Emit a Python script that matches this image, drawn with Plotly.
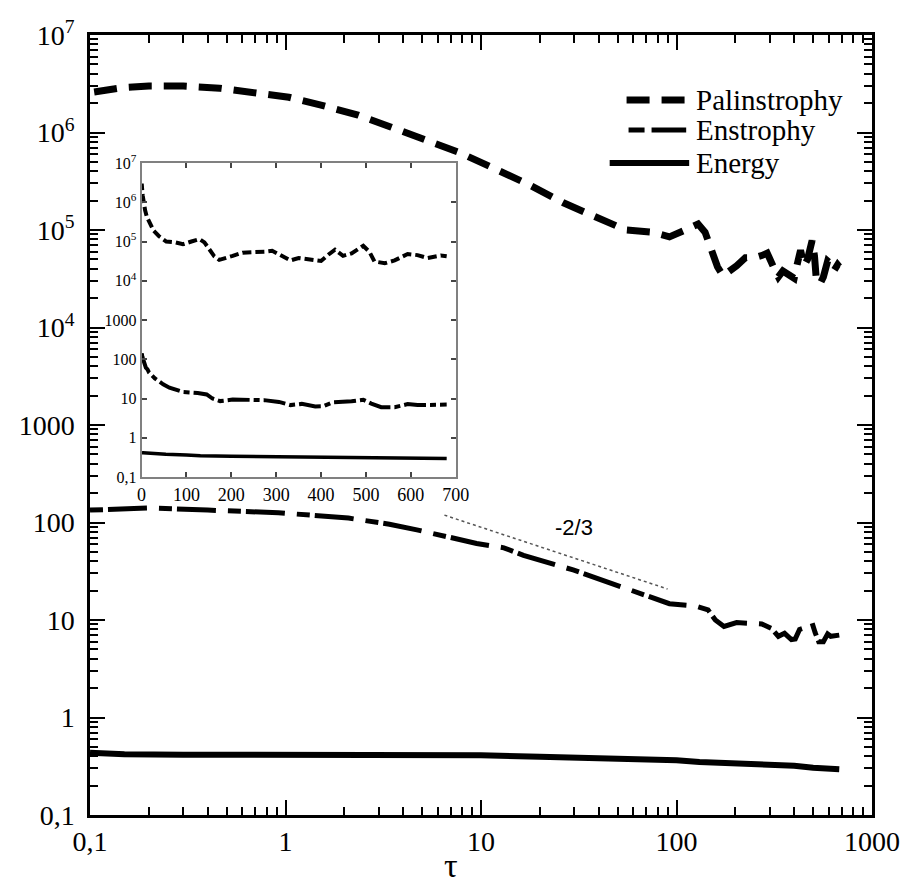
import plotly.graph_objects as go

# ---------------- data ----------------
pal_tau = [0.105, 0.15, 0.2, 0.3, 0.46, 0.7, 1.04, 1.52, 2.35, 3.45, 5.3, 7.8, 11.6, 17.7, 26.4,
           38.8, 55, 75, 92, 111, 129, 140, 152, 162, 173, 190, 203, 225, 250, 275, 291, 313,
           332, 350, 379, 400, 416, 431, 449, 468, 494, 508, 519, 542, 564, 593, 615, 637, 667,
           680]
pal_val = [2.6e6, 2.9e6, 3.0e6, 3.0e6, 2.85e6, 2.6e6, 2.3e6, 1.91e6, 1.51e6, 1.14e6, 8.4e5,
           6.2e5, 4.3e5, 2.9e5, 1.9e5, 1.36e5, 1.0e5, 9.5e4, 8.5e4, 1.0e5, 1.15e5, 9.5e4, 6e4,
           4.2e4, 3.4e4, 3.8e4, 4.3e4, 5.2e4, 5.2e4, 5.5e4, 5.8e4, 4.2e4, 3.3e4, 3.8e4, 3.5e4,
           3.2e4, 4.6e4, 6.2e4, 4.3e4, 5e4, 7.8e4, 5.4e4, 3.1e4, 2.8e4, 3.3e4, 4.8e4, 4.5e4,
           3.8e4, 4.4e4, 4.2e4]

ens_tau = [0.1, 0.2, 0.4, 0.92, 2.1, 3.4, 4.7, 7.5, 9.5, 13.1, 16.5, 29.6, 37.5, 48, 62, 75, 92,
           125, 145, 158, 175, 203, 225, 273, 306, 332, 357, 387, 405, 426, 468, 494, 512, 534,
           564, 593, 615, 656, 680]
ens_val = [134, 141, 134, 126, 111, 96, 84, 69, 61, 55, 46, 32.6, 27.6, 23, 18.9, 16.8, 14.7,
           13.9, 12.7, 10, 8.6, 9.4, 9.3, 9.1, 8.2, 6.8, 7.3, 6.3, 6.4, 8.0, 8.5, 9.3, 7.4, 6.0,
           6.0, 7.2, 6.8, 7.0, 7.0]

en_tau = [0.1, 0.15, 0.3, 1, 3, 10, 20, 54, 100, 131, 200, 300, 400, 500, 600, 680]
en_val = [0.435, 0.42, 0.415, 0.415, 0.415, 0.41, 0.395, 0.38, 0.365, 0.35, 0.34, 0.33, 0.32,
          0.305, 0.3, 0.295]

slope_tau = [6.5, 90]
slope_val = [119, 20.8]

x_ticks = [0.1, 1, 10, 100, 1000]
x_ticktext = ["0,1", "1", "10", "100", "1000"]
y_ticks = [0.1, 1, 10, 100, 1000, 1e4, 1e5, 1e6, 1e7]
y_ticktext = ["0,1", "1", "10", "100", "1000", "10<sup>4</sup>", "10<sup>5</sup>",
              "10<sup>6</sup>", "10<sup>7</sup>"]
inset_x_ticks = [0, 100, 200, 300, 400, 500, 600, 700]

legend_names = ["Palinstrophy", "Enstrophy", "Energy"]

# ---------------- figure ----------------
SERIF = "Liberation Serif"
SANS = "Liberation Sans"
fig = go.Figure()

# main panel
fig.add_trace(go.Scatter(x=pal_tau, y=pal_val, mode="lines", name=legend_names[0],
                         line=dict(color="black", width=7, dash="23px,12px"),
                         xaxis="x", yaxis="y"))
fig.add_trace(go.Scatter(x=ens_tau, y=ens_val, mode="lines", name=legend_names[1],
                         line=dict(color="black", width=5, dash="13px,5px,39px,12px"),
                         xaxis="x", yaxis="y"))
fig.add_trace(go.Scatter(x=en_tau, y=en_val, mode="lines", name=legend_names[2],
                         line=dict(color="black", width=6), xaxis="x", yaxis="y"))
fig.add_trace(go.Scatter(x=slope_tau, y=slope_val, mode="lines", name="-2/3",
                         line=dict(color="#555555", width=1.5, dash="3px,3px"),
                         xaxis="x", yaxis="y"))

# inset panel
fig.add_trace(go.Scatter(x=pal_tau, y=pal_val, mode="lines",
                         line=dict(color="black", width=4, dash="9px,4px"),
                         xaxis="x2", yaxis="y2"))
fig.add_trace(go.Scatter(x=ens_tau, y=ens_val, mode="lines",
                         line=dict(color="black", width=4, dash="22px,4px,6px,4px"),
                         xaxis="x2", yaxis="y2"))
fig.add_trace(go.Scatter(x=en_tau, y=en_val, mode="lines",
                         line=dict(color="black", width=3.5),
                         xaxis="x2", yaxis="y2"))

# main y labels get a trailing no-break space to sit a little further from the axis
y_ticktext_main = [t + "\u00a0" for t in y_ticktext]

TICK_COLOR = "black"
INSET_TICK_COLOR = "#444444"
main_minor = dict(ticks="inside", ticklen=8, tickwidth=2, tickcolor=TICK_COLOR, dtick="D1")
fig.update_layout(
    width=912, height=887,
    margin=dict(l=90, r=35, t=35, b=72),
    paper_bgcolor="white", plot_bgcolor="white",
    showlegend=False,
    xaxis=dict(type="log", range=[-1, 3], domain=[0, 1], anchor="y",
               tickvals=x_ticks, ticktext=x_ticktext,
               showgrid=False, zeroline=False, showline=True, linecolor="black",
               linewidth=2.5, ticks="inside", ticklen=15, tickwidth=2,
               tickcolor=TICK_COLOR, mirror="allticks", minor=main_minor,
               tickfont=dict(family=SERIF, size=28, color="black")),
    yaxis=dict(type="log", range=[-1, 7], domain=[0, 1], anchor="x",
               tickvals=y_ticks, ticktext=y_ticktext_main,
               showgrid=False, zeroline=False, showline=True, linecolor="black",
               linewidth=2.5, ticks="inside", ticklen=15, tickwidth=2,
               tickcolor=TICK_COLOR, mirror="allticks", minor=main_minor,
               tickfont=dict(family=SERIF, size=28, color="black")),
    xaxis2=dict(range=[0, 700], domain=[0.066, 0.4676], anchor="y2",
                tickvals=inset_x_ticks,
                showgrid=False, zeroline=False, showline=True, linecolor="#808080",
                linewidth=2, ticks="inside", ticklen=5, tickwidth=1.5,
                tickcolor=INSET_TICK_COLOR, mirror="allticks",
                tickfont=dict(family=SERIF, size=18, color="black")),
    yaxis2=dict(type="log", range=[-1, 7], domain=[0.4333, 0.8359], anchor="x2",
                tickvals=y_ticks, ticktext=y_ticktext,
                showgrid=False, zeroline=False, showline=True, linecolor="#808080",
                linewidth=2, ticks="inside", ticklen=5, tickwidth=1.5,
                tickcolor=INSET_TICK_COLOR, mirror="allticks",
                tickfont=dict(family=SERIF, size=16, color="black")),
)

# pixel -> paper helpers (plot area spans px 90..877, py 35..815)
def px(x):
    return (x - 90) / 787.0

def py(y):
    return (815 - y) / 780.0

# manual legend (long line samples like the original)
legend_rows = [
    (legend_names[0], 100, dict(color="black", width=7, dash="23px,12px"), 630, 690),
    (legend_names[1], 130, dict(color="black", width=5, dash="16px,7px,40px,4px"), 632, 690),
    (legend_names[2], 163, dict(color="black", width=6), 613, 693),
]
for name, yy, ln, x0, x1 in legend_rows:
    fig.add_shape(type="line", xref="paper", yref="paper",
                  x0=px(x0), x1=px(x1), y0=py(yy), y1=py(yy), line=ln)
    fig.add_annotation(xref="paper", yref="paper", x=px(698), y=py(yy), text=name,
                       showarrow=False, xanchor="left", yanchor="middle",
                       font=dict(family=SERIF, size=29, color="black"))

# slope label
fig.add_annotation(xref="x", yref="y", x=1.477, y=1.944, text="-2/3", showarrow=False,
                   font=dict(family=SANS, size=22, color="black"))

# x axis title
fig.add_annotation(xref="paper", yref="paper", x=px(453), y=py(886), text="τ",
                   showarrow=False, xanchor="center", yanchor="bottom",
                   font=dict(family=SERIF, size=34, color="black"))

fig.write_html("out.html")
